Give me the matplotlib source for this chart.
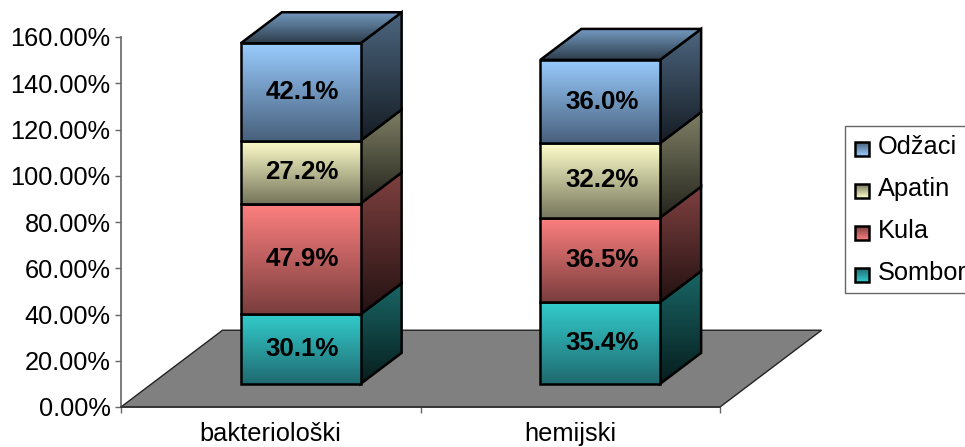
import numpy as np
import matplotlib
matplotlib.use("Agg")
import matplotlib.pyplot as plt
from matplotlib.colors import LinearSegmentedColormap, to_rgb
from matplotlib.path import Path
from matplotlib.patches import Polygon, Rectangle

plt.rcParams['font.family'] = ['Liberation Sans', 'DejaVu Sans']

categories = ['bakteriološki', 'hemijski']
series_names = ['Sombor', 'Kula', 'Apatin', 'Odžaci']
sombor = [30.1, 35.4]
kula = [47.9, 36.5]
apatin = [27.2, 32.2]
odzaci = [42.1, 36.0]
y_ticks = [0, 20, 40, 60, 80, 100, 120, 140, 160]

front_top = ['#33CCCC', '#FF8080', '#FFFFCC', '#99CCFF']
front_bottom = ['#1F6A70', '#7A3D3D', '#77775C', '#48607C']

FONT_SIZE = 18.3
BAR_LEFT = 0.4
BAR_WIDTH = 0.4
BAR_BASE = 10
BAR_DX = 0.137
BAR_DY = 13.4
FLOOR_DX = 0.339
FLOOR_DY = 33.2


def scale(color, k):
    return tuple(c * k for c in to_rgb(color))


def gradient(ax, verts, top, bottom, z):
    verts = np.array(verts)
    cmap = LinearSegmentedColormap.from_list('g', [top, bottom])
    im = ax.imshow(np.linspace(0, 1, 128).reshape(-1, 1), cmap=cmap, aspect='auto', zorder=z,
                   extent=(verts[:, 0].min(), verts[:, 0].max(), verts[:, 1].min(), verts[:, 1].max()),
                   origin='upper', interpolation='bilinear')
    im.set_clip_box(fig.bbox)
    im.set_clip_path(Path(np.vstack([verts, verts[0]])), ax.transData)
    ax.add_patch(Polygon(verts, closed=True, fill=False, edgecolor='black', linewidth=1.8,
                         joinstyle='miter', zorder=z + 0.1, clip_on=False))


fig = plt.figure(figsize=(9.65, 4.47), dpi=100)
ax = fig.add_axes([121 / 965, 1 - 407 / 447, 599 / 965, 370 / 447])

# pod grafika
ax.add_patch(Polygon([(0, 0), (2, 0), (2 + FLOOR_DX, FLOOR_DY), (FLOOR_DX, FLOOR_DY)], closed=True,
                     facecolor='#808080', edgecolor='#222222', linewidth=1, zorder=1, clip_on=False))

values = [sombor, kula, apatin, odzaci]
z = 3
for i in range(len(categories)):
    x0 = i + BAR_LEFT
    x1 = x0 + BAR_WIDTH
    bottom = BAR_BASE
    for s in range(len(series_names)):
        top = bottom + values[s][i]
        side = [(x1, bottom), (x1 + BAR_DX, bottom + BAR_DY), (x1 + BAR_DX, top + BAR_DY), (x1, top)]
        gradient(ax, side, scale(front_top[s], 0.5), scale(front_top[s], 0.14), z)
        front = [(x0, bottom), (x1, bottom), (x1, top), (x0, top)]
        gradient(ax, front, front_top[s], front_bottom[s], z + 0.2)
        ax.text((x0 + x1) / 2 + 0.005, (bottom + top) / 2, '%.1f%%' % values[s][i], ha='center', va='center',
                fontsize=FONT_SIZE + 0.3, fontweight='bold', color='black', zorder=z + 0.5)
        if s == len(series_names) - 1:
            roof = [(x0, top), (x1, top), (x1 + BAR_DX, top + BAR_DY), (x0 + BAR_DX, top + BAR_DY)]
            gradient(ax, roof, scale(front_top[s], 0.75), scale(front_top[s], 0.3), z + 0.3)
        bottom = top
        z += 1

ax.set_xlim(0, 2)
ax.set_ylim(0, 160)
ax.patch.set_visible(False)
for name in ['top', 'right']:
    ax.spines[name].set_visible(False)
ax.spines['left'].set_color('#666666')
ax.spines['left'].set_linewidth(1.2)
ax.spines['bottom'].set_color('#333333')
ax.spines['bottom'].set_linewidth(1.2)
ax.set_yticks(y_ticks)
ax.set_yticklabels(['%.2f%%' % t for t in y_ticks], fontsize=FONT_SIZE)
ax.set_xticks([0, 1, 2])
ax.set_xticklabels([])
ax.set_xticks([0.5, 1.5], minor=True)
ax.set_xticklabels(categories, minor=True, fontsize=FONT_SIZE)
ax.tick_params(axis='y', length=4.5, width=1, color='#666666', pad=3)
ax.tick_params(axis='x', which='major', length=4.5, width=1, color='#666666')
ax.tick_params(axis='x', which='minor', length=0, pad=11)

# legenda, u pikselima
lax = fig.add_axes([0, 0, 1, 1], zorder=20)
lax.set_xlim(0, 965)
lax.set_ylim(447, 0)
lax.axis('off')
lax.add_patch(Rectangle((845, 126), 160, 167, facecolor='white', edgecolor='#666666', linewidth=1))
rows = [149, 191, 233, 275]
for row, s in zip(rows, reversed(range(len(series_names)))):
    square = [(855, row - 7), (869, row - 7), (869, row + 7), (855, row + 7)]
    gradient(lax, square, front_top[s], front_bottom[s], 21)
    lax.text(878, row - 2, series_names[s], fontsize=FONT_SIZE, va='center', ha='left', color='black')
lax.set_xlim(0, 965)
lax.set_ylim(447, 0)

fig.savefig('out.png', dpi=100)
